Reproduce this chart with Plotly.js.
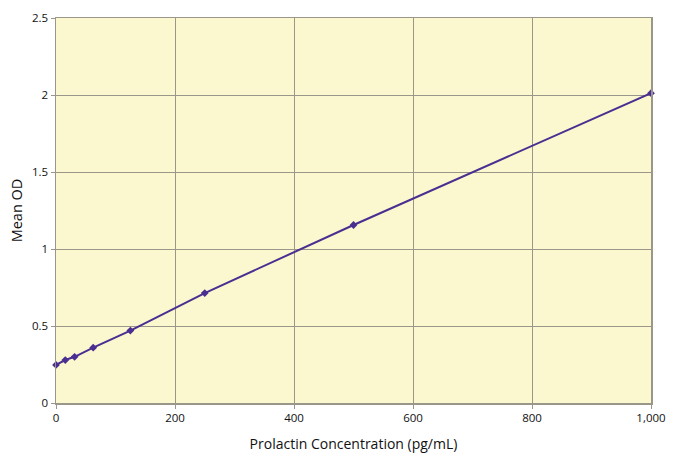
<!DOCTYPE html>
<html>
<head>
<meta charset="utf-8">
<script src="https://cdn.plot.ly/plotly-3.0.1.min.js"></script>
<style>
  html, body { margin: 0; padding: 0; background: #fff; }
  #chart { width: 676px; height: 460px; }
</style>
</head>
<body>
<div id="chart"></div>
<script>
// Standard curve: concentration (pg/mL) vs mean OD
const concentration = [0, 15.6, 31.25, 62.5, 125, 250, 500, 1000];
const meanOD = [0.247, 0.279, 0.300, 0.359, 0.470, 0.714, 1.156, 2.012];

const xTicks = [0, 200, 400, 600, 800, 1000];
const xTickText = ['0', '200', '400', '600', '800', '1,000'];
const yTicks = [0, 0.5, 1, 1.5, 2, 2.5];
const yTickText = ['0', '0.5', '1', '1.5', '2', '2.5'];

const LINE = '#4b2e91';
const GRID = '#9a968a';

const trace = {
  type: 'scatter', mode: 'lines+markers',
  x: concentration, y: meanOD,
  line: { color: LINE, width: 2 },
  marker: { color: LINE, symbol: 'diamond', size: 6 },
  cliponaxis: false,
};

const axis = {
  showline: true, linecolor: GRID, linewidth: 1.5,
  showgrid: true, gridcolor: GRID, gridwidth: 1,
  zeroline: false, ticks: 'outside', ticklen: 4, tickcolor: GRID,
  tickfont: { size: 11.5, color: '#111' }, mirror: true,
};

const layout = {
  width: 676, height: 460,
  paper_bgcolor: '#fff', plot_bgcolor: '#fbf8cf',
  font: { family: '"Open Sans", sans-serif', color: '#111' },
  margin: { l: 56, r: 25, t: 18, b: 57 },
  showlegend: false,
  xaxis: Object.assign({}, axis, {
    range: [0, 1000], tickvals: xTicks, ticktext: xTickText,
    title: { text: 'Prolactin Concentration (pg/mL)', font: { size: 14 }, standoff: 15 },
  }),
  yaxis: Object.assign({}, axis, {
    range: [0, 2.5], tickvals: yTicks, ticktext: yTickText,
    title: { text: 'Mean OD', font: { size: 14.5 }, standoff: 6 },
  }),
};

Plotly.newPlot('chart', [trace], layout, { displayModeBar: false, staticPlot: true });
</script>
</body>
</html>
